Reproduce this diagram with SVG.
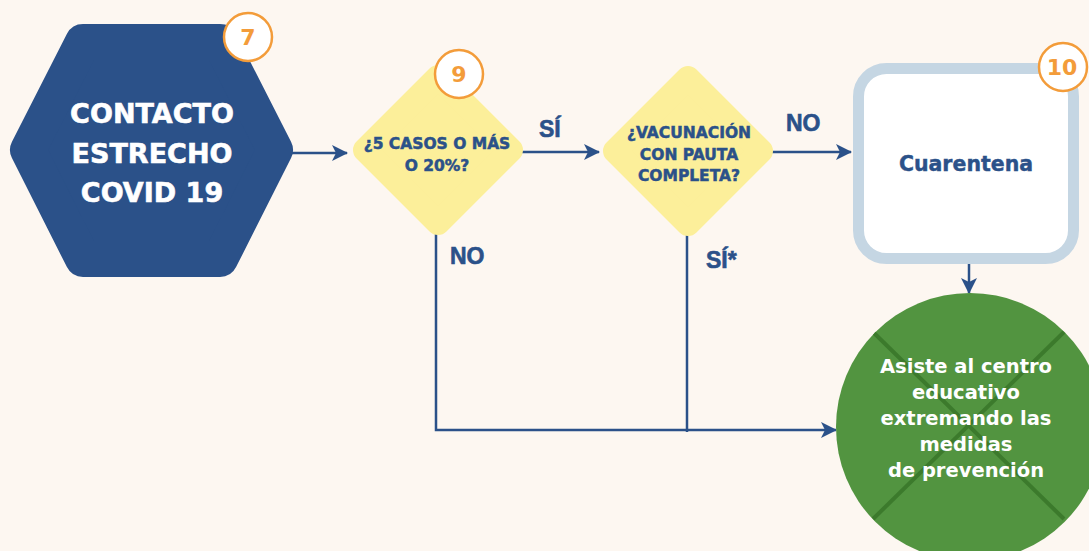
<svg xmlns="http://www.w3.org/2000/svg" width="1089" height="551" viewBox="0 0 1089 551">
<defs>
<style>
.bg{fill:#FDF7F1}
.conn{stroke:#2B5189;stroke-width:2.5;fill:none}
.hex{fill:#2B5189;stroke:#2B5189;stroke-width:36;stroke-linejoin:round}
.dia{fill:#FCEF9A;stroke:#FCEF9A;stroke-width:24;stroke-linejoin:round}
.box{fill:#FFFFFF;stroke:#C5D6E3;stroke-width:11}
.badge{fill:#FFFFFF;stroke:#F39C3A;stroke-width:2.5}
.bnum{font-family:"DejaVu Sans",sans-serif;font-weight:bold;font-size:22px;fill:#F39C3A;text-anchor:middle}
.hext{font-family:"DejaVu Sans",sans-serif;font-weight:bold;font-size:27px;fill:#FFFFFF;stroke:#FFFFFF;stroke-width:0.6;text-anchor:middle}
.diat{font-family:"DejaVu Sans",sans-serif;font-weight:bold;font-size:15.5px;fill:#2B5189;stroke:#2B5189;stroke-width:0.5;text-anchor:middle}
.boxt{font-family:"DejaVu Sans",sans-serif;font-weight:bold;font-size:20.5px;fill:#2B5189;stroke:#2B5189;stroke-width:0.4;text-anchor:middle}
.circt{font-family:"DejaVu Sans",sans-serif;font-weight:bold;font-size:19.5px;fill:#FFFFFF;text-anchor:middle}
.lbl{font-family:"Liberation Sans",Arial,sans-serif;font-weight:bold;font-size:23px;fill:#2B5189;stroke:#2B5189;stroke-width:0.6}
</style>
<marker id="arr" viewBox="0 0 16 16" refX="15" refY="8" markerWidth="16" markerHeight="16" markerUnits="userSpaceOnUse" orient="auto">
<path d="M0,0 L16,8 L0,16 L4,8 z" fill="#2B5189"/>
</marker>
<clipPath id="cclip"><circle cx="970" cy="427" r="134"/></clipPath>
</defs>
<rect class="bg" x="0" y="0" width="1089" height="551"/>

<g id="connectors">
<line class="conn" x1="292" y1="153" x2="347" y2="153" marker-end="url(#arr)"/>
<line class="conn" x1="520" y1="152" x2="599" y2="152" marker-end="url(#arr)"/>
<line class="conn" x1="770" y1="152" x2="851" y2="152" marker-end="url(#arr)"/>
<line class="conn" x1="969" y1="262" x2="969" y2="293" marker-end="url(#arr)"/>
<polyline class="conn" points="436,230 436,430 836,430" marker-end="url(#arr)"/>
<line class="conn" x1="687" y1="230" x2="687" y2="432"/>
<text class="lbl" x="539" y="137">SÍ</text>
<text class="lbl" x="786" y="131">NO</text>
<text class="lbl" x="450" y="264">NO</text>
<text class="lbl" x="706" y="268">SÍ*</text>
</g>

<g id="node-contacto">
<polygon class="hex" points="28,150 83,42 220,42 275,150 220,259 83,259"/>
<text class="hext" x="152" y="123">CONTACTO</text>
<text class="hext" x="152" y="163">ESTRECHO</text>
<text class="hext" x="152" y="202">COVID 19</text>
</g>

<g id="node-casos">
<polygon class="dia" points="365,150 438,77 511,150 438,223"/>
<text class="diat" x="437" y="149">¿5 CASOS O MÁS</text>
<text class="diat" x="437" y="171">O 20%?</text>
</g>

<g id="node-vacunacion">
<polygon class="dia" points="615,151 688,78 761,151 688,224"/>
<text class="diat" x="689" y="138">¿VACUNACIÓN</text>
<text class="diat" x="689" y="160">CON PAUTA</text>
<text class="diat" x="689" y="181">COMPLETA?</text>
</g>

<g id="node-cuarentena">
<rect class="box" x="858.5" y="68.5" width="215" height="190" rx="28" ry="28"/>
<text class="boxt" x="966" y="171">Cuarentena</text>
</g>

<g id="node-asiste">
<circle cx="970" cy="427" r="134" fill="#529440"/>
<g clip-path="url(#cclip)" stroke="#3C7A2C" stroke-width="4">
<line x1="873" y1="332" x2="1064" y2="519"/>
<line x1="1064" y1="332" x2="873" y2="519"/>
</g>
<text class="circt" x="966" y="373">Asiste al centro</text>
<text class="circt" x="966" y="399">educativo</text>
<text class="circt" x="966" y="425">extremando las</text>
<text class="circt" x="966" y="451">medidas</text>
<text class="circt" x="966" y="477">de prevención</text>
</g>

<g id="badge-7">
<circle class="badge" cx="248" cy="37" r="24"/>
<text class="bnum" x="248" y="45">7</text>
</g>
<g id="badge-9">
<circle class="badge" cx="459" cy="74" r="24"/>
<text class="bnum" x="459" y="82">9</text>
</g>
<g id="badge-10">
<circle class="badge" cx="1063" cy="67" r="24"/>
<text class="bnum" x="1062" y="75">10</text>
</g>
</svg>
